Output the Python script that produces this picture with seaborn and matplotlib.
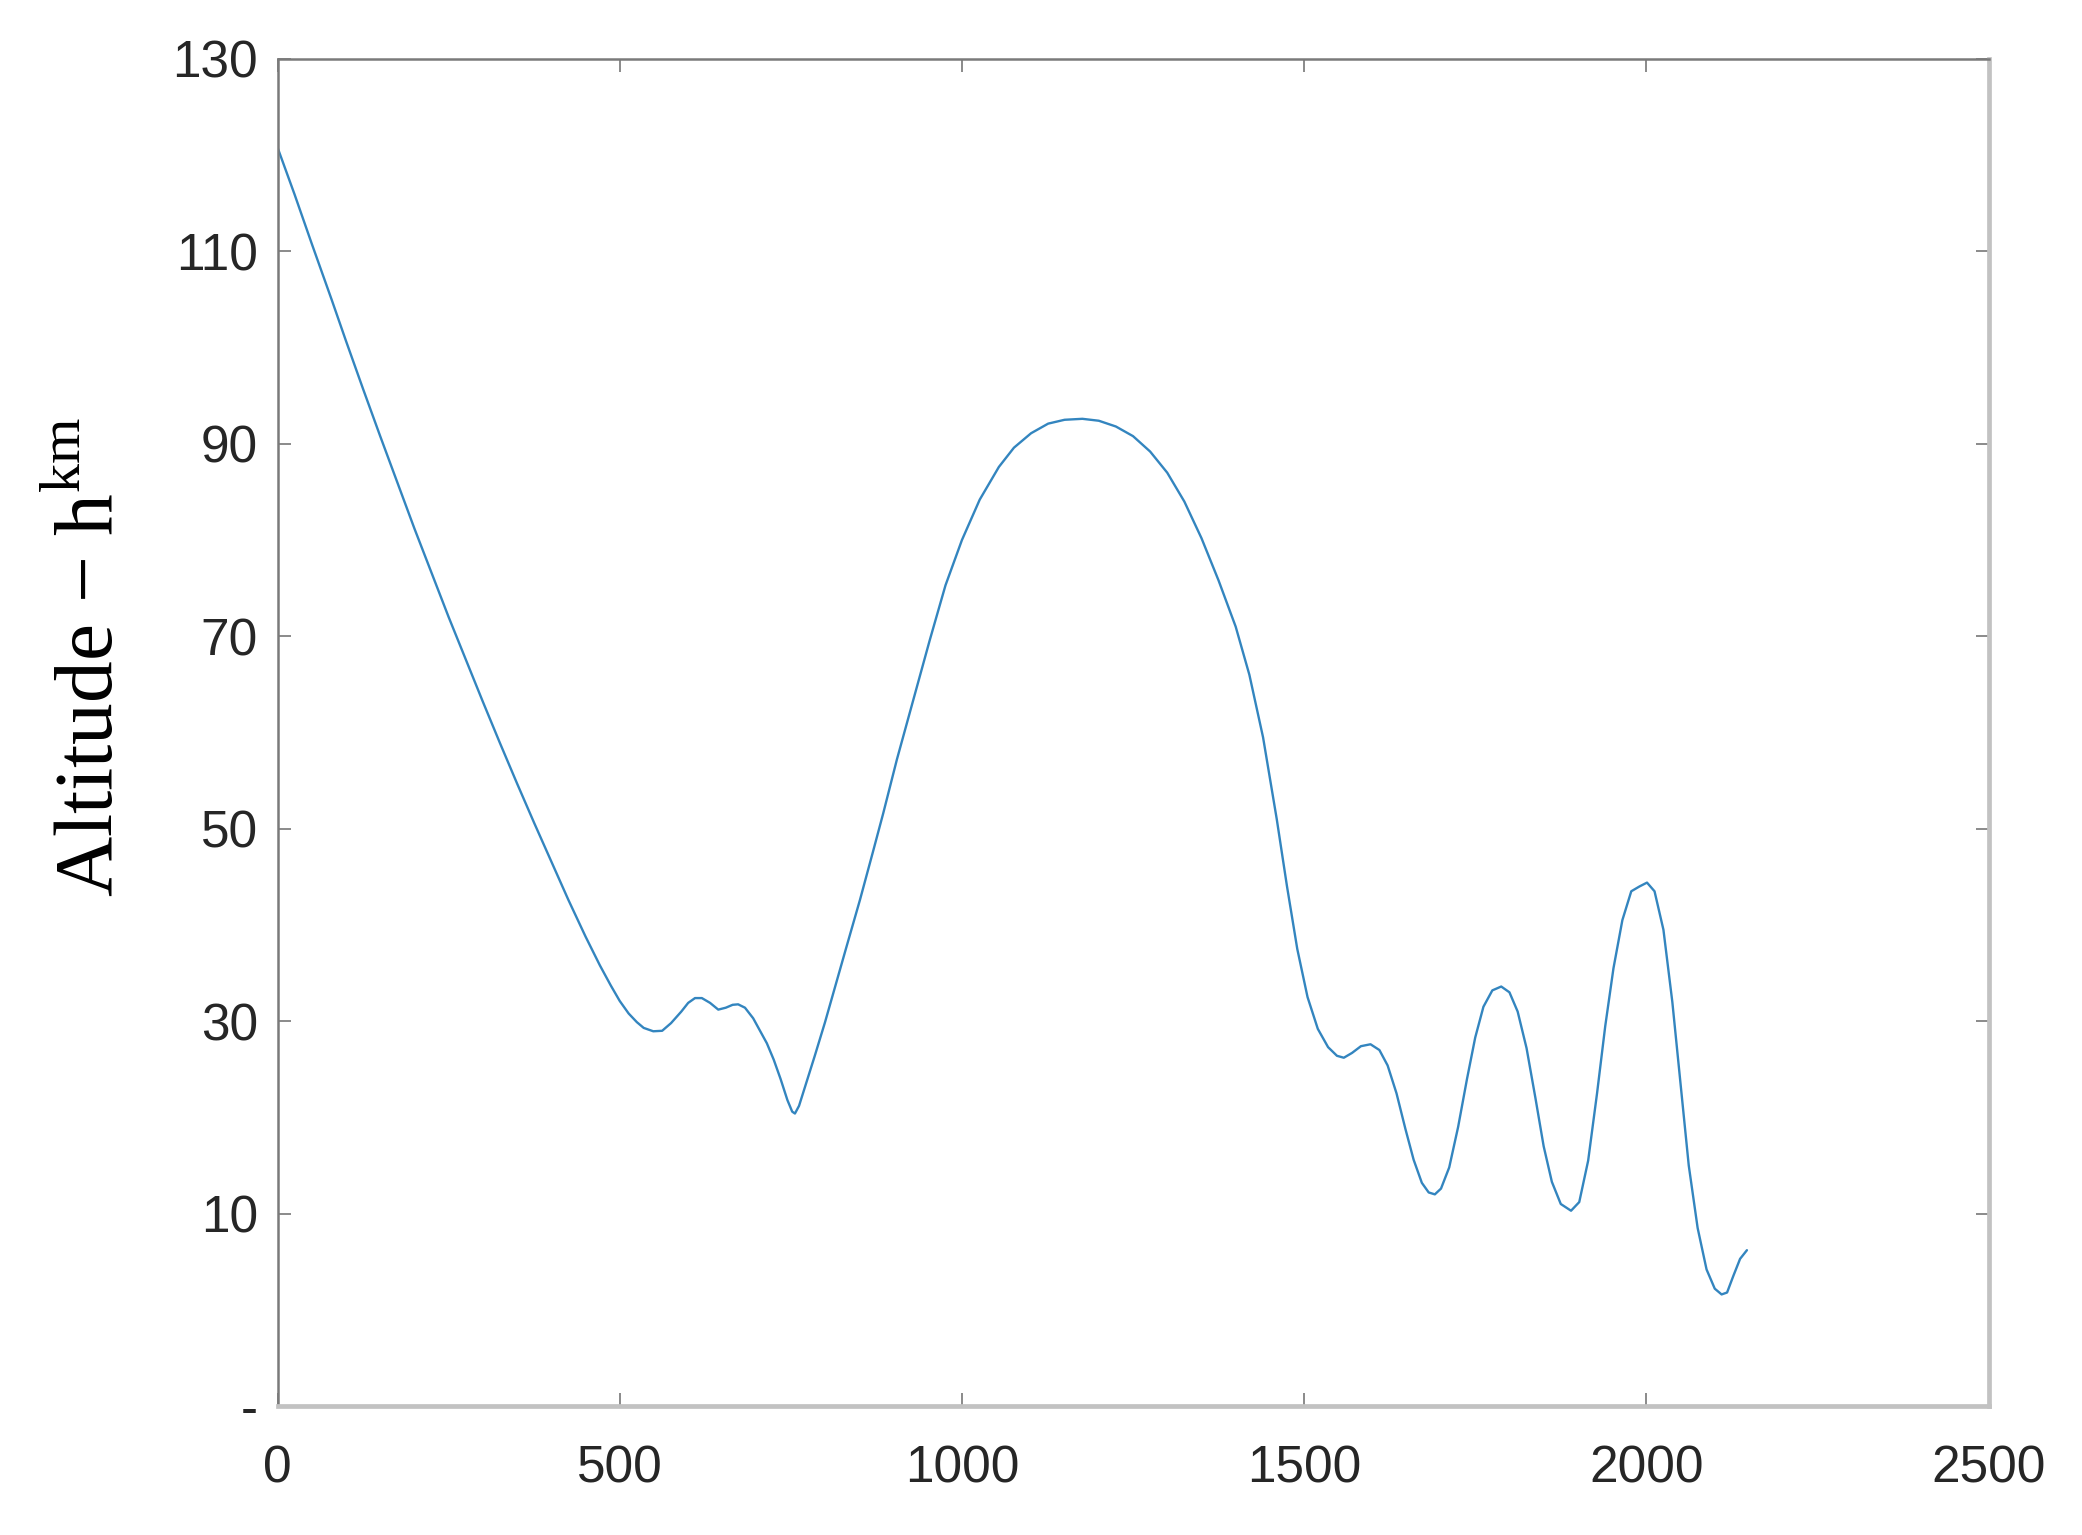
import numpy as np
import pandas as pd
import matplotlib
matplotlib.use("Agg")
import matplotlib.pyplot as plt
import seaborn as sns

# ---- data ----
time_s = [0, 25, 50, 79, 100, 125, 150, 175, 200, 225, 250, 275, 300, 325,
          350, 375, 400, 425, 450, 471, 487, 500, 513, 525, 535, 549, 562,
          575, 590, 600, 610, 620, 632, 644, 655, 665, 673, 683, 695, 705,
          715, 725, 735, 745, 752, 756, 762, 770, 785, 800, 812, 830, 851,
          870, 885, 905, 929, 953, 976, 1000, 1026, 1054, 1076, 1101, 1126,
          1150, 1176, 1200, 1225, 1250, 1275, 1300, 1325, 1350, 1375, 1400,
          1420, 1440, 1460, 1475, 1490, 1505, 1520, 1535, 1548, 1558, 1570,
          1583, 1597, 1610, 1622, 1635, 1648, 1660, 1672, 1682, 1691, 1700,
          1712, 1725, 1738, 1750, 1762, 1775, 1788, 1800, 1812, 1825, 1838,
          1850, 1862, 1875, 1890, 1902, 1915, 1928, 1940, 1952, 1965, 1978,
          1990, 2001, 2012, 2025, 2038, 2050, 2062, 2075, 2088, 2100, 2110,
          2118, 2127, 2137, 2147]
altitude_km = [120.8, 115.9, 110.8, 105.0, 100.7, 95.7, 90.8, 86.0, 81.2,
               76.6, 72.0, 67.6, 63.2, 58.9, 54.7, 50.6, 46.6, 42.6, 38.8,
               35.8, 33.7, 32.1, 30.8, 29.9, 29.3, 28.95, 29.0, 29.8, 31.0,
               31.9, 32.4, 32.4, 31.9, 31.2, 31.4, 31.7, 31.75, 31.4, 30.3,
               29.0, 27.7, 26.0, 24.0, 21.8, 20.6, 20.4, 21.2, 23.0, 26.4,
               29.9, 32.9, 37.4, 42.6, 47.6, 51.6, 57.2, 63.4, 69.6, 75.3,
               80.0, 84.2, 87.6, 89.6, 91.1, 92.1, 92.5, 92.6, 92.4, 91.8,
               90.8, 89.2, 87.0, 84.0, 80.2, 75.8, 71.0, 66.0, 59.5, 51.0,
               44.0, 37.5, 32.5, 29.2, 27.3, 26.4, 26.2, 26.7, 27.4, 27.6,
               27.0, 25.4, 22.5, 18.8, 15.6, 13.2, 12.2, 12.0, 12.6, 14.8,
               19.0, 24.0, 28.3, 31.5, 33.2, 33.6, 33.0, 31.0, 27.2, 22.0,
               17.0, 13.3, 11.0, 10.3, 11.2, 15.5, 22.5, 29.5, 35.5, 40.5,
               43.5, 44.0, 44.4, 43.5, 39.5, 32.0, 23.5, 15.0, 8.5, 4.2, 2.2,
               1.6, 1.8, 3.5, 5.3, 6.2]

x_ticks = [0, 500, 1000, 1500, 2000, 2500]
y_ticks = [-10, 10, 30, 50, 70, 90, 110, 130]
y_tick_labels = ["-", "10", "30", "50", "70", "90", "110", "130"]

df = pd.DataFrame({"t": time_s, "h": altitude_km})

sns.set_theme(style="white")
plt.rcParams["font.family"] = ["Liberation Sans", "DejaVu Sans"]
plt.rcParams["mathtext.fontset"] = "custom"
plt.rcParams["mathtext.rm"] = "Liberation Serif"

fig = plt.figure(figsize=(20.82, 15.35), dpi=100)
ax = fig.add_axes([0.1333, 0.0840, 0.8218, 0.8776])

sns.lineplot(data=df, x="t", y="h", ax=ax, color="#3385bf", linewidth=1.7,
             sort=False)

ax.set_xlim(0, 2500)
ax.set_ylim(-10, 130)
ax.set_xticks(x_ticks)
ax.set_xticklabels([str(v) for v in x_ticks])
ax.set_yticks(y_ticks)
ax.set_yticklabels(y_tick_labels)
ax.set_xlabel("")
ax.set_ylabel("")

ax.tick_params(axis="both", which="both", direction="in", length=9.5,
               width=1.4, color="#8a8a8a", labelsize=37, labelcolor="#262626",
               top=True, right=True, bottom=True, left=True)
ax.tick_params(axis="x", pad=28)
ax.tick_params(axis="y", pad=14)

for side in ["left", "top"]:
    ax.spines[side].set_color("#7a7a7a")
    ax.spines[side].set_linewidth(1.8)
for side in ["right", "bottom"]:
    ax.spines[side].set_color("#c2c2c2")
    ax.spines[side].set_linewidth(3.4)

fig.text(0.044, 0.572, "Altitude \u2212 h$^{\\mathrm{km}}$", rotation=90,
         ha="center", va="center", fontsize=60, family="Liberation Serif",
         color="black")

fig.savefig("out.png", dpi=100, facecolor="white")
